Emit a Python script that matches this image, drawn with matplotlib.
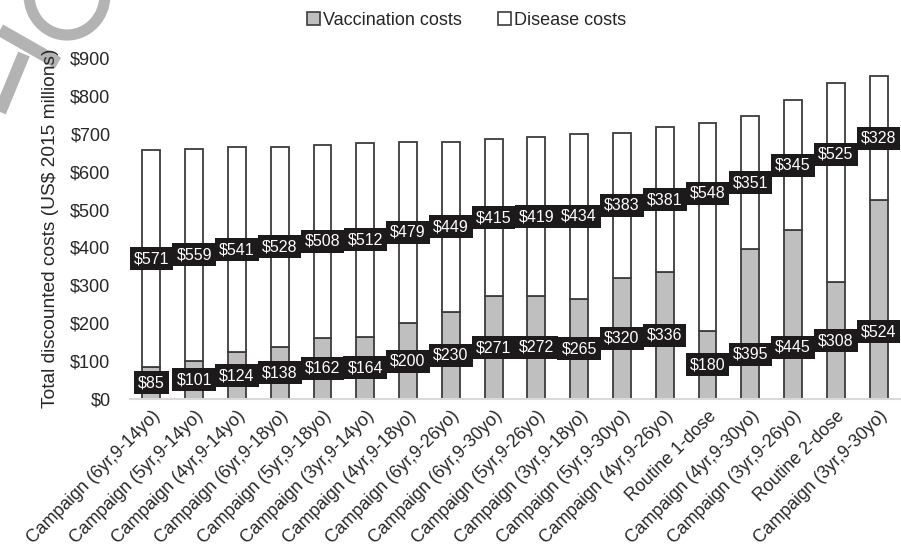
import matplotlib
matplotlib.use("Agg")
import matplotlib.pyplot as plt
from matplotlib.patches import Patch, Arc
import numpy as np

plt.rcParams['font.family'] = ['Liberation Sans', 'DejaVu Sans']

strategies = [
    "Campaign (6yr,9-14yo)", "Campaign (5yr,9-14yo)", "Campaign (4yr,9-14yo)",
    "Campaign (6yr,9-18yo)", "Campaign (5yr,9-18yo)", "Campaign (3yr,9-14yo)",
    "Campaign (4yr,9-18yo)", "Campaign (6yr,9-26yo)", "Campaign (6yr,9-30yo)",
    "Campaign (5yr,9-26yo)", "Campaign (3yr,9-18yo)", "Campaign (5yr,9-30yo)",
    "Campaign (4yr,9-26yo)", "Routine 1-dose", "Campaign (4yr,9-30yo)",
    "Campaign (3yr,9-26yo)", "Routine 2-dose", "Campaign (3yr,9-30yo)",
]
vaccination_costs = [85, 101, 124, 138, 162, 164, 200, 230, 271,
                     272, 265, 320, 336, 180, 395, 445, 308, 524]
disease_costs = [571, 559, 541, 528, 508, 512, 479, 449, 415,
                 419, 434, 383, 381, 548, 351, 345, 525, 328]
yticks = [0, 100, 200, 300, 400, 500, 600, 700, 800, 900]

vacc = np.array(vaccination_costs)
dis = np.array(disease_costs)
x = np.arange(len(strategies))

# label heights: middle of each segment, a few nudged by hand so boxes don't collide
vacc_label_y = vacc / 2.0
dis_label_y = vacc + dis / 2.0
vacc_label_y[14] = 118
vacc_label_y[15] = 137
vacc_label_y[17] = 177
dis_label_y[13] = 543
dis_label_y[16] = 646

fig = plt.figure(figsize=(9.01, 5.57), dpi=100)
ax = fig.add_axes([130 / 901, 1 - 399 / 557, 770 / 901, 341 / 557])

edge = "#3c3c3c"
ax.bar(x, vacc, width=0.42, color="#bfbfbf", edgecolor=edge, linewidth=1.3, zorder=2)
ax.bar(x, dis, bottom=vacc, width=0.42, color="white", edgecolor=edge, linewidth=1.3, zorder=2)

box = dict(boxstyle="square,pad=0.25", facecolor="#1c1a1a", edgecolor="none")
for i in range(len(x)):
    ax.text(x[i], vacc_label_y[i], f"${vacc[i]}", ha="center", va="center",
            color="white", fontsize=11.5, bbox=box, zorder=5)
for i in range(len(x)):
    ax.text(x[i], dis_label_y[i], f"${dis[i]}", ha="center", va="center",
            color="white", fontsize=11.5, bbox=box, zorder=5)

ax.set_xlim(-0.5, len(x) - 0.5)
ax.set_ylim(0, 900)
ax.set_yticks(yticks)
ax.set_yticklabels([f"${v}" for v in yticks], fontsize=13, color="#262626")
ax.set_xticks(x)
ax.set_xticklabels(strategies, rotation=45, ha="right", rotation_mode="anchor",
                   fontsize=12.8, color="#262626")
ax.tick_params(axis="both", length=0)
ax.tick_params(axis="y", pad=14)
ax.tick_params(axis="x", pad=6)
for s in ["top", "right", "left"]:
    ax.spines[s].set_visible(False)
ax.spines["bottom"].set_color("#d9d9d9")
ax.spines["bottom"].set_linewidth(1.5)
ax.set_ylabel("Total discounted costs (US$ 2015 millions)", fontsize=13.8,
              color="#262626", labelpad=8)

handles = [Patch(facecolor="#bfbfbf", edgecolor=edge, linewidth=1.2, label="Vaccination costs"),
           Patch(facecolor="white", edgecolor=edge, linewidth=1.2, label="Disease costs")]
fig.legend(handles=handles, loc="center", bbox_to_anchor=(0.518, 0.964), ncol=2,
           frameon=False, fontsize=13, handlelength=0.7, handleheight=0.7,
           handletextpad=0.2, columnspacing=2.0, labelcolor="#262626")

# grey stamp strokes in the top-left corner
wm = fig.add_axes([0, 0, 1, 1], zorder=-1)
wm.set_xlim(0, 901)
wm.set_ylim(557, 0)
wm.axis("off")
wm_col = "#b3b3b3"
wm.add_patch(Arc((67, -5), 76, 80, theta1=0, theta2=180, color=wm_col, linewidth=8))
wm.plot([0, 58], [30, 63], color=wm_col, linewidth=9, solid_capstyle="butt")
wm.plot([24, 0], [54, 112], color=wm_col, linewidth=9, solid_capstyle="butt")

fig.savefig("out.png", dpi=100)
